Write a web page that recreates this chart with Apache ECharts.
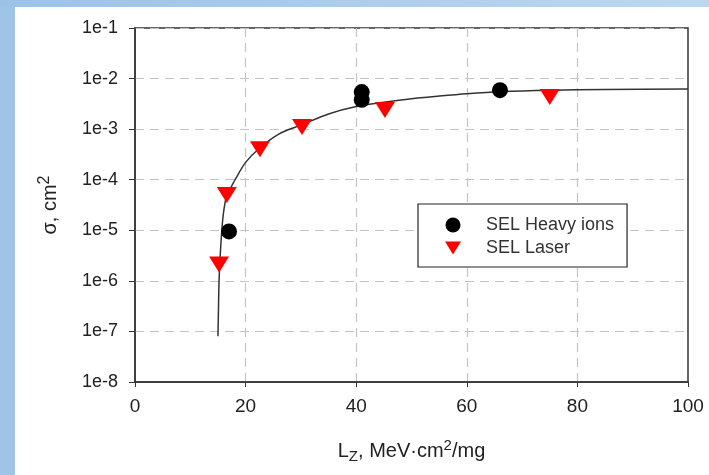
<!DOCTYPE html>
<html>
<head>
<meta charset="utf-8">
<script src="https://cdn.jsdelivr.net/npm/echarts@6/dist/echarts.min.js"></script>
<style>
html,body{margin:0;padding:0;background:#fff;}
#chart{width:709px;height:475px;}
</style>
</head>
<body>
<div id="chart"></div>
<script>
// ---- data ----
var xTicks = [0, 20, 40, 60, 80, 100];
var yTickLabels = ['1e-8','1e-7','1e-6','1e-5','1e-4','1e-3','1e-2','1e-1'];
var heavyIonsLZ = [17, 41, 41, 66];
var heavyIonsSigma = [9.5e-6, 5.4e-3, 3.8e-3, 5.9e-3];
var laserLZ = [15.2, 16.6, 22.6, 30.2, 45.2, 75];
var laserSigma = [2.1e-6, 5e-5, 4e-4, 1.1e-3, 2.4e-3, 4.3e-3];
var fitLZ = [15.0, 15.1, 15.2, 15.4, 15.7, 16.0, 16.5, 17.2, 18.1, 20, 22.5, 26, 30, 35, 40, 45, 50, 55, 60, 66, 75, 85, 100];
var fitSigma = [8e-8, 3e-7, 1e-6, 3e-6, 1e-5, 2.2e-5, 4.5e-5, 6.5e-5, 1e-4, 2.2e-4, 4.2e-4, 8e-4, 1.2e-3, 2e-3, 2.8e-3, 3.4e-3, 4.0e-3, 4.5e-3, 5.0e-3, 5.5e-3, 5.9e-3, 6.1e-3, 6.2e-3];
var seriesNames = ['SEL Heavy ions', 'SEL Laser'];

function zip(a, b) { return a.map(function (v, i) { return [v, b[i]]; }); }

var FONT = 'Liberation Sans, Arial, sans-serif';
var chart = echarts.init(document.getElementById('chart'), null, {renderer: 'canvas'});
var tri = 'path://M0,0L20,0L10,16Z';

chart.setOption({
  backgroundColor: '#ffffff',
  animation: false,
  graphic: [
    {type: 'rect', z: -10, shape: {x: 0, y: 0, width: 15, height: 475}, style: {fill: '#9fc4e7'}},
    {type: 'rect', z: -10, shape: {x: 0, y: 0, width: 709, height: 7},
     style: {fill: new echarts.graphic.LinearGradient(0, 0, 1, 0, [{offset: 0, color: '#9cc2e6'}, {offset: 1, color: '#bcd8f1'}])}}
  ],
  grid: {left: 135, right: 21, top: 28, bottom: 93, show: true, borderColor: '#333', borderWidth: 1.5, backgroundColor: 'transparent'},
  legend: {
    data: seriesNames.map(function (n, i) { return {name: n, icon: i === 0 ? 'circle' : tri}; }),
    orient: 'vertical',
    left: 418, top: 204,
    padding: [12, 13, 10, 27],
    itemGap: 5,
    itemWidth: 16, itemHeight: 15,
    borderColor: '#222', borderWidth: 1.2,
    backgroundColor: '#fff',
    textStyle: {fontFamily: FONT, fontSize: 18, color: '#333', lineHeight: 15, padding: [0, 0, 0, 20]}
  },
  xAxis: {
    type: 'value', min: xTicks[0], max: xTicks[xTicks.length - 1], interval: 20,
    name: '{n|L}{sub|Z}{n|, MeV·cm}{sup|2}{n|/mg}',
    nameLocation: 'middle', nameGap: 56,
    nameTextStyle: {
      rich: {
        n: {fontFamily: FONT, fontSize: 20, color: '#222', lineHeight: 26},
        sub: {fontFamily: FONT, fontSize: 15, color: '#222', verticalAlign: 'bottom', lineHeight: 26},
        sup: {fontFamily: FONT, fontSize: 15, color: '#222', verticalAlign: 'top', lineHeight: 26}
      }
    },
    axisLine: {lineStyle: {color: '#333', width: 1.5}},
    axisTick: {show: true, length: 5, lineStyle: {color: '#333'}},
    axisLabel: {fontFamily: FONT, fontSize: 19, color: '#222', margin: 15},
    splitLine: {show: true, showMinLine: false, showMaxLine: false, lineStyle: {color: '#c4c4c4', type: [9, 6], width: 1.2}}
  },
  yAxis: {
    type: 'log', logBase: 10, min: 1e-8, max: 1e-1,
    name: '{n|σ, cm}{sup|2}',
    nameLocation: 'middle', nameRotate: 90, nameGap: 72,
    nameTextStyle: {
      rich: {
        n: {fontFamily: FONT, fontSize: 20, color: '#222', lineHeight: 26},
        sup: {fontFamily: FONT, fontSize: 16, color: '#222', verticalAlign: 'top', lineHeight: 26}
      }
    },
    axisLine: {show: true, lineStyle: {color: '#333', width: 1.5}},
    axisTick: {show: true, length: 6, lineStyle: {color: '#333'}},
    axisLabel: {
      fontFamily: FONT, fontSize: 18, color: '#222', margin: 17,
      formatter: function (v) { var k = Math.round(Math.log10(v)); return yTickLabels[k + 8] || ''; }
    },
    splitLine: {show: true, showMinLine: false, showMaxLine: false, lineStyle: {color: '#c4c4c4', type: [9, 6], width: 1.2}}
  },
  series: [
    {
      name: 'fit', type: 'line', data: zip(fitLZ, fitSigma), smooth: 0.3,
      showSymbol: false, symbol: 'none', z: 1,
      lineStyle: {color: '#333', width: 1.5}, silent: true
    },
    {
      name: seriesNames[0], type: 'scatter', data: zip(heavyIonsLZ, heavyIonsSigma),
      symbol: 'circle', symbolSize: 16, z: 3,
      itemStyle: {color: '#000', opacity: 1}
    },
    {
      name: seriesNames[1], type: 'scatter', data: zip(laserLZ, laserSigma),
      symbol: tri, symbolSize: [20, 16], z: 2,
      itemStyle: {color: '#ff0000', opacity: 1}
    }
  ]
});
</script>
</body>
</html>
